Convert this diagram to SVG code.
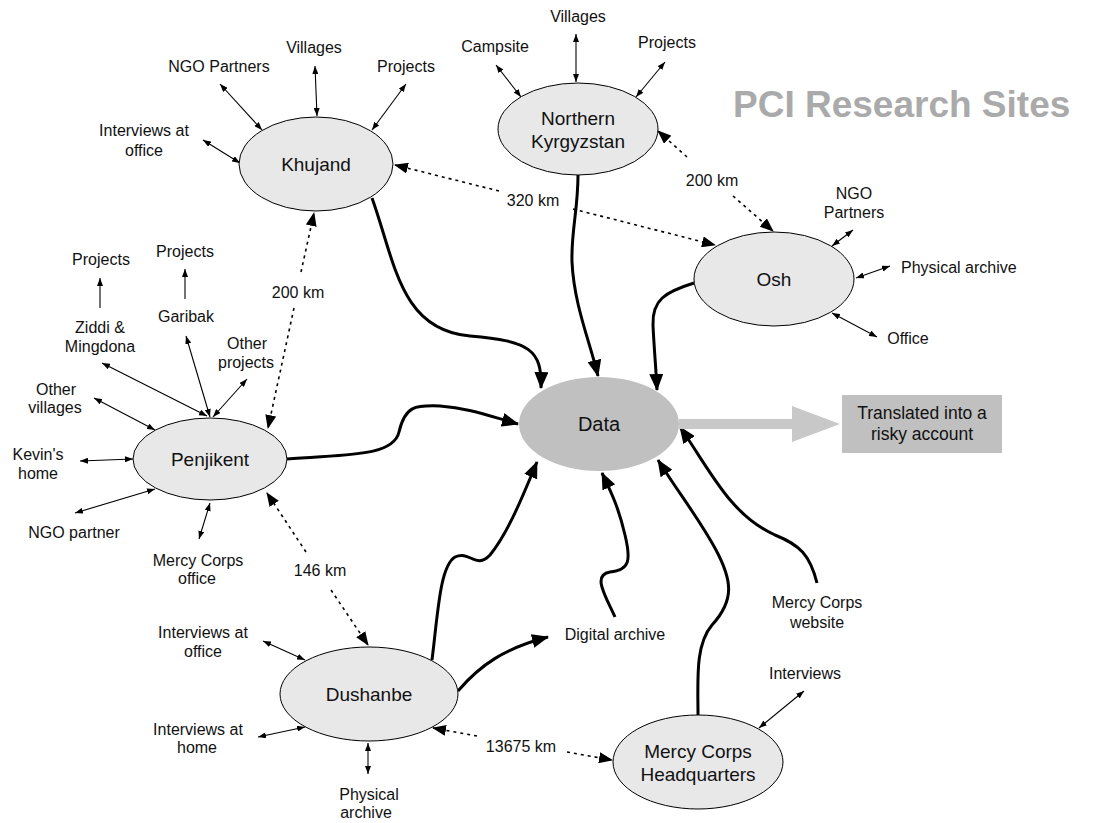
<svg xmlns="http://www.w3.org/2000/svg" width="1097" height="823" viewBox="0 0 1097 823">
<defs>
<style>
text{font-family:"Liberation Sans",Arial,Helvetica,sans-serif;fill:#111;text-anchor:middle}
.lbl{font-size:16px}
.nl{font-size:19px}
.node{fill:#e8e8e8;stroke:#000;stroke-width:1}
.thick{fill:none;stroke:#000;stroke-width:3;marker-end:url(#hk)}
.dot{fill:none;stroke:#000;stroke-width:1.6;stroke-dasharray:3 4;marker-end:url(#hd)}
.thin{fill:none;stroke:#000;stroke-width:1.1;marker-end:url(#ht);marker-start:url(#ht)}
.one{fill:none;stroke:#000;stroke-width:1.1;marker-end:url(#ht)}
</style>
<marker id="hk" markerUnits="userSpaceOnUse" markerWidth="17" markerHeight="14" refX="16" refY="7" orient="auto"><path d="M0,0 L17,7 L0,14 z" fill="#000"/></marker>
<marker id="hd" markerUnits="userSpaceOnUse" markerWidth="14" markerHeight="11" refX="13" refY="5.5" orient="auto"><path d="M0,0 L14,5.5 L0,11 z" fill="#000"/></marker>
<marker id="ht" markerUnits="userSpaceOnUse" markerWidth="8" markerHeight="6" refX="8" refY="3" orient="auto-start-reverse"><path d="M0,0 L8,3 L0,6 z" fill="#000"/></marker>
</defs>
<rect width="1097" height="823" fill="#fff"/>

<text x="733" y="117" style="font-size:37px;font-weight:bold;fill:#aaaaaa;text-anchor:start">PCI Research Sites</text>

<g id="connectors">
<!-- thick data flows -->
<path class="thick" d="M372,198 C395,262 400,330 470,336 C530,341 542,350 541,388"/>
<path class="thick" d="M578,175 C578,210 571,232 572,262 C574,305 590,342 598,376"/>
<path class="thick" d="M694,283 C665,292 652,300 653,325 C654,348 656,368 657,390"/>
<path class="thick" d="M287,459 C340,454 393,458 399,432 C405,406 415,405 440,406 C470,408 492,417 518,424"/>
<path class="thick" d="M432,660 C438,612 440,566 455,557 C470,550 476,570 490,555 C510,530 525,490 537,462"/>
<path class="thick" d="M458,691 C480,665 505,648 548,637"/>
<path class="thick" d="M615,617 C605,595 592,575 610,572 C630,570 631,560 625,535 C618,505 610,490 602,473"/>
<path class="thick" d="M698,715 C698,680 695,645 712,625 C735,600 732,580 716,550 C700,520 680,495 658,460"/>
<path class="thick" d="M817,583 C810,555 800,545 775,535 C730,515 710,470 680,427"/>
<!-- big grey arrow -->
<polygon points="679,419 792,419 792,406 840,424 792,442 792,429 679,429" fill="#c8c8c8"/>
<!-- dotted distance arrows -->
<path class="dot" d="M499,191 L395,165"/>
<path class="dot" d="M573,209 L715,245"/>
<path class="dot" d="M687,157 L658,131"/>
<path class="dot" d="M733,196 L773,231"/>
<path class="dot" d="M301,272 L314,213"/>
<path class="dot" d="M294,308 L268,428"/>
<path class="dot" d="M306,552 L267,493"/>
<path class="dot" d="M331,590 L368,645"/>
<path class="dot" d="M477,736 L433,728"/>
<path class="dot" d="M567,752 L612,760"/>
<!-- Khujand satellites -->
<path class="thin" d="M315,66 L317,116"/>
<path class="thin" d="M220,84 L262,130"/>
<path class="thin" d="M406,84 L372,130"/>
<path class="thin" d="M203,140 L240,163"/>
<!-- Northern Kyrgyzstan satellites -->
<path class="thin" d="M576,34 L576,82"/>
<path class="thin" d="M496,65 L521,97"/>
<path class="thin" d="M665,62 L636,97"/>
<!-- Osh satellites -->
<path class="thin" d="M853,230 L832,246"/>
<path class="thin" d="M890,266 L856,278"/>
<path class="thin" d="M877,337 L832,313"/>
<!-- Penjikent satellites -->
<path class="one" d="M100,308 L100,278"/>
<path class="one" d="M185,299 L185,269"/>
<path class="thin" d="M102,363 L207,416"/>
<path class="thin" d="M186,336 L210,417"/>
<path class="thin" d="M247,379 L213,417"/>
<path class="thin" d="M94,398 L155,430"/>
<path class="thin" d="M80,461 L133,459"/>
<path class="thin" d="M75,513 L155,489"/>
<path class="thin" d="M210,503 L199,539"/>
<!-- Dushanbe satellites -->
<path class="thin" d="M263,641 L305,660"/>
<path class="thin" d="M258,737 L305,727"/>
<path class="thin" d="M368,743 L368,774"/>
<!-- HQ satellite -->
<path class="thin" d="M804,691 L759,728"/>
<!-- distance labels -->
<text class="lbl" x="533" y="206">320 km</text>
<text class="lbl" x="712" y="186">200 km</text>
<text class="lbl" x="298" y="298">200 km</text>
<text class="lbl" x="320" y="576">146 km</text>
<text class="lbl" x="521" y="752">13675 km</text>
</g>

<g id="khujand">
<ellipse class="node" cx="316" cy="164" rx="77" ry="47"/>
<text class="nl" x="316" y="171">Khujand</text>
</g>
<g id="khujand-villages"><text class="lbl" x="314" y="53">Villages</text></g>
<g id="khujand-ngo"><text class="lbl" x="219" y="72">NGO Partners</text></g>
<g id="khujand-projects"><text class="lbl" x="406" y="72">Projects</text></g>
<g id="khujand-interviews"><text class="lbl" x="144" y="136">Interviews at</text><text class="lbl" x="144" y="156">office</text></g>

<g id="northern-kyrgyzstan">
<ellipse class="node" cx="578" cy="129" rx="80" ry="46"/>
<text class="nl" x="578" y="125">Northern</text>
<text class="nl" x="578" y="148">Kyrgyzstan</text>
</g>
<g id="nk-villages"><text class="lbl" x="578" y="22">Villages</text></g>
<g id="nk-campsite"><text class="lbl" x="495" y="52">Campsite</text></g>
<g id="nk-projects"><text class="lbl" x="667" y="48">Projects</text></g>

<g id="osh">
<ellipse class="node" cx="774" cy="279" rx="80" ry="47"/>
<text class="nl" x="774" y="286">Osh</text>
</g>
<g id="osh-ngo"><text class="lbl" x="854" y="199">NGO</text><text class="lbl" x="854" y="218">Partners</text></g>
<g id="osh-archive"><text class="lbl" x="901" y="273" style="text-anchor:start">Physical archive</text></g>
<g id="osh-office"><text class="lbl" x="908" y="344">Office</text></g>

<g id="penjikent">
<ellipse class="node" cx="210" cy="459" rx="77" ry="41"/>
<text class="nl" x="210" y="466">Penjikent</text>
</g>
<g id="pj-projects1"><text class="lbl" x="101" y="265">Projects</text></g>
<g id="pj-projects2"><text class="lbl" x="185" y="257">Projects</text></g>
<g id="pj-garibak"><text class="lbl" x="186" y="322">Garibak</text></g>
<g id="pj-ziddi"><text class="lbl" x="100" y="333">Ziddi &amp;</text><text class="lbl" x="100" y="352">Mingdona</text></g>
<g id="pj-other-projects"><text class="lbl" x="247" y="349">Other</text><text class="lbl" x="246" y="368">projects</text></g>
<g id="pj-other-villages"><text class="lbl" x="56" y="395">Other</text><text class="lbl" x="55" y="413">villages</text></g>
<g id="pj-kevin"><text class="lbl" x="38" y="460">Kevin's</text><text class="lbl" x="38" y="479">home</text></g>
<g id="pj-ngo"><text class="lbl" x="74" y="538">NGO partner</text></g>
<g id="pj-mercy"><text class="lbl" x="198" y="566">Mercy Corps</text><text class="lbl" x="197" y="584">office</text></g>

<g id="dushanbe">
<ellipse class="node" cx="369" cy="694" rx="89" ry="47"/>
<text class="nl" x="369" y="701">Dushanbe</text>
</g>
<g id="du-office"><text class="lbl" x="203" y="638">Interviews at</text><text class="lbl" x="203" y="657">office</text></g>
<g id="du-home"><text class="lbl" x="198" y="735">Interviews at</text><text class="lbl" x="197" y="753">home</text></g>
<g id="du-archive"><text class="lbl" x="369" y="800">Physical</text><text class="lbl" x="366" y="818">archive</text></g>

<g id="data">
<ellipse cx="599" cy="424" rx="80" ry="47" fill="#c0c0c0"/>
<text x="599" y="431" style="font-size:20px">Data</text>
</g>

<g id="translated">
<rect x="842" y="395" width="160" height="58" fill="#c0c0c0"/>
<text x="922" y="419" style="font-size:17.5px">Translated into a</text>
<text x="922" y="440" style="font-size:17.5px">risky account</text>
</g>

<g id="digital-archive"><text class="lbl" x="615" y="640">Digital archive</text></g>
<g id="mc-website"><text class="lbl" x="817" y="608">Mercy Corps</text><text class="lbl" x="817" y="628">website</text></g>

<g id="mercy-corps-hq">
<ellipse class="node" cx="698" cy="762" rx="85" ry="47"/>
<text class="nl" x="698" y="758">Mercy Corps</text>
<text class="nl" x="698" y="781">Headquarters</text>
</g>
<g id="hq-interviews"><text class="lbl" x="805" y="679">Interviews</text></g>
</svg>
